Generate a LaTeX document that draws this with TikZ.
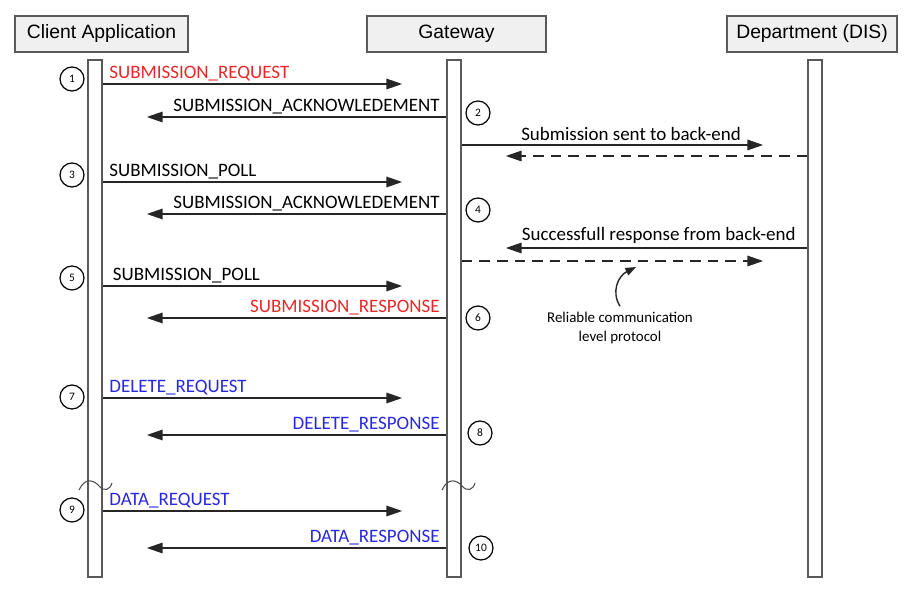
\documentclass[tikz,border=0pt]{standalone}
\usepackage{fontspec}
\setmainfont{Carlito}
\newfontfamily\headfont{Liberation Sans}
\usetikzlibrary{arrows.meta}

\definecolor{msgred}{RGB}{232,40,40}
\definecolor{msgblue}{RGB}{40,40,225}
\definecolor{boxgray}{RGB}{240,240,240}

\tikzset{
  head/.style={draw=black!65,line width=1pt,fill=boxgray,minimum height=0.72cm,
    font=\headfont\fontsize{11}{13}\selectfont},
  life/.style={draw=black!65,line width=1pt,fill=white,minimum width=0.28cm,minimum height=10.34cm},
  num/.style={draw,circle,line width=0.7pt,minimum size=0.48cm,inner sep=0pt,font=\fontsize{6.5}{7}\selectfont},
  msg/.style={draw=black!85,line width=0.8pt,-{Triangle[length=9pt,width=6pt]},shorten >=25pt,
    font=\fontsize{10.8}{12}\selectfont},
  tolbl/.style={pos=0,anchor=base west,xshift=0pt,yshift=3pt},
  frlbl/.style={pos=0,anchor=base east,xshift=0pt,yshift=3pt},
}

\begin{document}
\begin{tikzpicture}[x=0.02cm,y=-0.02cm]
    \useasboundingbox (0,0) rectangle (908,597);

    % Headers and lifelines:
    \node[head,minimum width=3.46cm] (hcl) at (101.5,34) {Client Application};
    \node[head,minimum width=3.58cm] (hgw) at (456.5,34) {Gateway};
    \node[head,minimum width=3.40cm] (hdis) at (812,34) {Department (DIS)};
    \node[life] (cl) at (95,318.5) {};
    \node[life] (gw) at (454,318.5) {};
    \node[life] (dis) at (815,318.5) {};

    % Rows of the messages:
    \foreach \n/\y in {1/84,2/117,3/182,4/214,5/286,6/318,7/398,8/435,9/511,10/548,
                       b1/145,b2/156,b3/248,b4/261}
        \coordinate (r\n) at (0,\y);

    % Step numbers:
    \foreach \n/\x/\y in {1/72/79,2/478/113,3/72/175,4/478/210,5/72/278,
                          6/478/318,7/72/397,8/480/433,9/72/510,10/481/548}
        \node[num] (c\n) at (\x,\y) {\n};

    % Client <-> Gateway:
    \draw[msg] (cl.east |- r1) -- node[tolbl,text=msgred] {SUBMISSION\_REQUEST} (gw.west |- r1);
    \draw[msg] (gw.west |- r2) -- node[frlbl] {SUBMISSION\_ACKNOWLEDEMENT} (cl.east |- r2);
    \draw[msg] (cl.east |- r3) -- node[tolbl] {SUBMISSION\_POLL} (gw.west |- r3);
    \draw[msg] (gw.west |- r4) -- node[frlbl] {SUBMISSION\_ACKNOWLEDEMENT} (cl.east |- r4);
    \draw[msg] (cl.east |- r5) -- node[tolbl,xshift=2pt] {SUBMISSION\_POLL} (gw.west |- r5);
    \draw[msg] (gw.west |- r6) -- node[frlbl,text=msgred] {SUBMISSION\_RESPONSE} (cl.east |- r6);
    \draw[msg] (cl.east |- r7) -- node[tolbl,text=msgblue] {DELETE\_REQUEST} (gw.west |- r7);
    \draw[msg] (gw.west |- r8) -- node[frlbl,text=msgblue] {DELETE\_RESPONSE} (cl.east |- r8);
    \draw[msg] (cl.east |- r9) -- node[tolbl,text=msgblue] {DATA\_REQUEST} (gw.west |- r9);
    \draw[msg] (gw.west |- r10) -- node[frlbl,text=msgblue] {DATA\_RESPONSE} (cl.east |- r10);

    % Gateway <-> Department:
    \draw[msg] (gw.east |- rb1) -- node[pos=0.49,above,inner sep=2pt] {Submission sent to back-end} (dis.west |- rb1);
    \draw[msg,dashed,dash pattern=on 6pt off 4pt] (dis.west |- rb2) -- (gw.east |- rb2);
    \draw[msg] (dis.west |- rb3) -- node[pos=0.43,above,inner sep=2pt] {Successfull response from back-end} (gw.east |- rb3);
    \draw[msg,dashed,dash pattern=on 6pt off 4pt] (gw.east |- rb4) -- (dis.west |- rb4);

    % Note on the dashed line:
    \node[font=\fontsize{8.5}{10.5}\selectfont,align=center] (rel) at (620,328) {Reliable communication\\level protocol};
    \coordinate (relend) at (636,267);
    \draw[black!85,line width=0.8pt,-{Triangle[length=6pt,width=4.5pt]}]
        (rel.north) .. controls (611,292) and (618,276) .. (relend);

    % Breaks in the lifelines:
    \foreach \x in {79,442}
        \draw[black!70,line width=0.6pt] (\x,490) .. controls (\x+6,477) and (\x+15,480) .. (\x+20,486)
            .. controls (\x+25,492) and (\x+31,490) .. (\x+33,483);
\end{tikzpicture}
\end{document}
